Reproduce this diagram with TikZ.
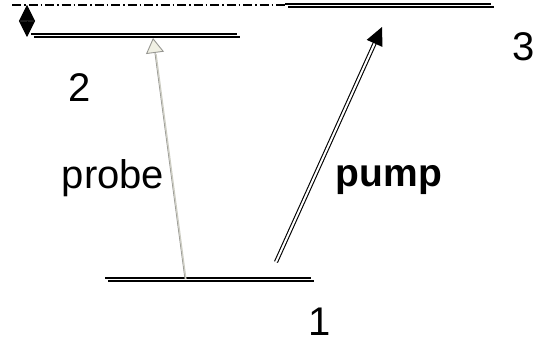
\documentclass[tikz,border=0pt]{standalone}
\usepackage{fontspec}
\setmainfont{Liberation Sans}
\usetikzlibrary{arrows.meta}
\definecolor{probeline}{RGB}{205,205,195}
\definecolor{probehead}{RGB}{240,240,228}
\definecolor{probeedge}{RGB}{150,150,145}

\begin{document}
\begin{tikzpicture}[x=1pt, y=-1pt, >={Triangle[length=16pt, width=16pt]},
    lvl/.style={inner sep=0pt, minimum width=205pt, minimum height=0pt},
    lvlline/.style={line width=1.6pt},
    lbl/.style={anchor=base, inner sep=0pt, font=\fontsize{40}{44}\selectfont}]
    \useasboundingbox (0,0) rectangle (548,347);
    % levels
    \foreach \n/\x/\y in {1/208/278, 2/134/34, 3/388/4} {
        \node[lvl] (L\n) at (\x,\y) {};
        \draw[lvlline] (L\n.west) -- (L\n.east);
        \draw[lvlline] ([shift={(3,3)}]L\n.west) -- ([shift={(3,3)}]L\n.east);
    }
    \node[lbl] (n1) at (320,335) {1};
    \node[lbl] (n2) at (80,102) {2};
    \node[lbl] (n3) at (524,61) {3};

    % detuning
    \coordinate (ddstart) at (12,5);
    \draw[line width=1.3pt, dash pattern=on 9pt off 3pt on 1.5pt off 3pt] (ddstart) -- (ddstart -| L3.west);
    \coordinate (gaptop) at (27,5);
    \coordinate (gapbot) at (27,37);
    \draw[<->, line width=0.6pt] (gaptop) -- (gapbot);

    % probe
    \coordinate (probefrom) at (185,279);
    \coordinate (probeto) at (153,38);
    \draw[-{Triangle[length=15pt, width=18pt, fill=probehead]}, draw=probeedge, line width=0.9pt] (probefrom) -- (probeto);
    \draw[probeline, line width=1.3pt, shorten >=16pt] ([xshift=0.9pt]probefrom) -- ([xshift=0.9pt]probeto);
    \node[lbl] (probelbl) at (113,189) {probe};

    % pump
    \coordinate (pumpfrom) at (276,262);
    \coordinate (pumpto) at (382,27);
    \draw[-{Triangle[length=18pt, width=17pt]}, double, double distance=2pt, line width=1.1pt] (pumpfrom) -- (pumpto);
    \node[lbl, font=\fontsize{39}{44}\selectfont\bfseries] (pumplbl) at (389,187) {pump};
\end{tikzpicture}
\end{document}
